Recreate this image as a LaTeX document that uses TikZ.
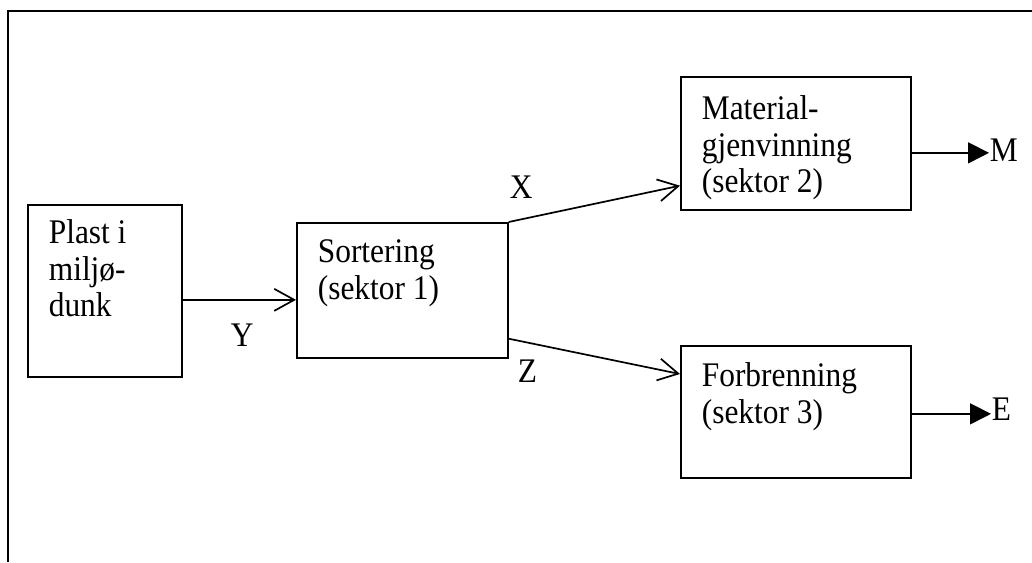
\documentclass[tikz,border=0pt]{standalone}
\usepackage{fontspec}
\setmainfont{Liberation Serif}
% Times-like face, slightly narrowed
\newfontfamily\flowfont[FakeStretch=0.91]{Liberation Serif}
\usetikzlibrary{arrows.meta,calc}
\begin{document}
\begin{tikzpicture}[x=1pt,y=-1pt,
  line width=1.7pt,
  box/.style={draw,rectangle,inner sep=0pt,anchor=north west},
  boxtext/.style={anchor=north west,inner sep=0pt,align=left,font=\flowfont\fontsize{34.5}{36.5}\selectfont},
  lbl/.style={anchor=base west,inner sep=0pt,font=\flowfont\fontsize{34.5}{36.5}\selectfont},
  flow/.style={-{Straight Barb[length=20pt,width=22pt]}},
  outflow/.style={-{Triangle[length=21pt,width=21pt]}}]
\useasboundingbox (0,0) rectangle (1032,562);
% frame along the top and left edges
\draw (1032,11) -- (8,11) -- (8,562);
% boxes
\node[box,minimum width=154pt,minimum height=172pt] (plast) at (27,204) {};
\node[box,minimum width=211pt,minimum height=135pt] (sort) at (296,222) {};
\node[box,minimum width=230pt,minimum height=133pt] (mat) at (680,76) {};
\node[box,minimum width=230pt,minimum height=132pt] (forb) at (680,345) {};
% box texts
\node[boxtext] (tplast) at ($(plast.north west)+(21,13.5)$) {\strut Plast i\\miljø-\\dunk};
\node[boxtext] (tsort) at ($(sort.north west)+(21,14.5)$) {\strut Sortering\\(sektor 1)};
\node[boxtext] (tmat) at ($(mat.north west)+(21,17.5)$) {\strut Material-\\gjenvinning\\(sektor 2)};
\node[boxtext] (tforb) at ($(forb.north west)+(21,15.5)$) {\strut Forbrenning\\(sektor 3)};
% flow labels
\node[lbl] (ly) at (230,346) {Y};
\node[lbl] (lx) at (509,198) {X};
\node[lbl] (lz) at (517,382) {Z};
\node[lbl] (lm) at (989,161) {M};
\node[lbl] (le) at (991,420) {E};
% flows
\draw[flow] ([yshift=-9pt]plast.east) coordinate (ys) -- (ys -| sort.west);
\draw[flow] (sort.north east) -- ([yshift=25pt]mat.south west);
\draw[flow] ([yshift=20pt]sort.south east) -- ([yshift=-29pt]forb.north west);
\draw[outflow] ([yshift=-9.5pt]mat.east) coordinate (ms) -- (ms -| lm.west);
\draw[outflow] ([yshift=-2pt]forb.east) coordinate (es) -- (es -| le.west);
\end{tikzpicture}
\end{document}
